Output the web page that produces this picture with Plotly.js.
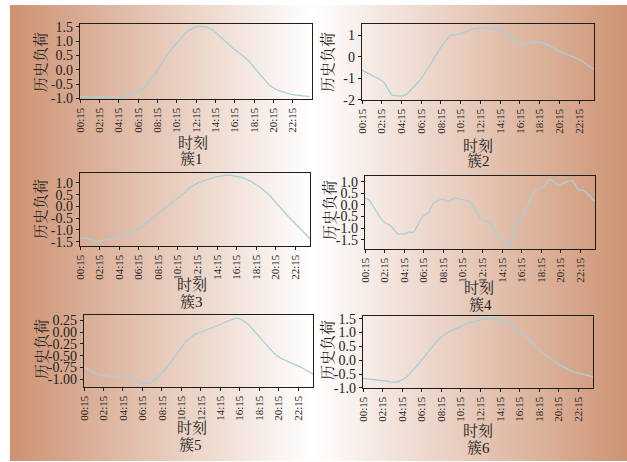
<!DOCTYPE html>
<html>
<head>
<meta charset="utf-8">
<script src="https://cdn.plot.ly/plotly-3.0.1.min.js"></script>
<style>
  html, body { margin: 0; padding: 0; background: #ffffff; }
  #wrap { position: relative; width: 627px; height: 462px; }
  #bg { position: absolute; left: 10px; top: 5px; width: 617px; height: 456px;
        background: linear-gradient(to right, rgb(205,146,114) 0%, rgb(255,255,255) 49%, rgb(206,148,116) 100%); }
  #chart { position: absolute; left: 0; top: 0; width: 627px; height: 462px; }
</style>
</head>
<body>
<div id="wrap"><div id="bg"></div><div id="chart"></div></div>
<script>
// time slot categories (00:15 ... 24:00, every 15 minutes)
const times = [];
for (let i = 0; i < 96; i++) {
  const m = 15 + 15 * i;
  const h = Math.floor(m / 60), mm = m % 60;
  times.push(String(h).padStart(2, '0') + ':' + String(mm).padStart(2, '0'));
}
const tickTimes = times.filter((t, i) => i % 8 === 0);

const clusterNames = ['簇1', '簇2', '簇3', '簇4', '簇5', '簇6'];
const yLabel = '历史负荷';
const xLabel = '时刻';

// y tick values per panel
const yTicks1 = [-1.0, -0.5, 0.0, 0.5, 1.0, 1.5];
const yTicks2 = [-2, -1, 0, 1];
const yTicks3 = [-1.5, -1.0, -0.5, 0.0, 0.5, 1.0];
const yTicks4 = [-1.5, -1.0, -0.5, 0.0, 0.5, 1.0];
const yTicks5 = [-1.00, -0.75, -0.50, -0.25, 0.00, 0.25];
const yTicks6 = [-1.0, -0.5, 0.0, 0.5, 1.0, 1.5];
const yTickDecimals = [1, 0, 1, 1, 2, 1];

const cluster1 = [-0.93,-0.94,-0.94,-0.94,-0.95,-0.95,-0.95,-0.95,-0.94,-0.94,-0.94,-0.94,-0.94,-0.94,-0.94,-0.94,-0.93,-0.93,-0.92,-0.91,
  -0.90,-0.88,-0.86,-0.83,-0.78,-0.72,-0.65,-0.57,-0.48,-0.38,-0.27,-0.16,-0.04,0.09,0.23,0.37,0.50,0.62,0.73,0.83,
  0.93,1.03,1.13,1.23,1.31,1.38,1.43,1.47,1.50,1.52,1.52,1.52,1.50,1.47,1.43,1.38,1.32,1.24,1.16,1.07,
  0.99,0.91,0.84,0.77,0.71,0.65,0.59,0.53,0.46,0.38,0.29,0.19,0.09,-0.01,-0.11,-0.22,-0.32,-0.42,-0.51,-0.58,
  -0.64,-0.68,-0.72,-0.75,-0.78,-0.81,-0.83,-0.85,-0.87,-0.88,-0.89,-0.90,-0.91,-0.92,-0.93,-0.94];

const cluster2 = [-0.62,-0.68,-0.74,-0.79,-0.84,-0.90,-0.96,-1.02,-1.10,-1.20,-1.40,-1.65,-1.78,-1.79,-1.80,-1.82,-1.83,-1.80,-1.74,-1.64,
  -1.53,-1.42,-1.30,-1.16,-1.01,-0.85,-0.66,-0.48,-0.30,-0.13,0.07,0.27,0.45,0.62,0.77,0.90,0.99,1.03,1.04,1.05,
  1.08,1.12,1.16,1.21,1.26,1.29,1.31,1.33,1.34,1.35,1.35,1.34,1.32,1.30,1.28,1.26,1.24,1.20,1.13,1.06,
  0.96,0.85,0.75,0.67,0.62,0.59,0.58,0.59,0.62,0.66,0.69,0.70,0.69,0.66,0.62,0.56,0.50,0.44,0.37,0.30,
  0.24,0.20,0.17,0.12,0.06,0.01,-0.04,-0.08,-0.11,-0.17,-0.26,-0.35,-0.44,-0.52,-0.56,-0.58];

const cluster3 = [-1.32,-1.33,-1.34,-1.36,-1.40,-1.44,-1.47,-1.48,-1.47,-1.46,-1.45,-1.43,-1.40,-1.37,-1.34,-1.31,-1.28,-1.24,-1.21,-1.17,
  -1.13,-1.09,-1.05,-1.01,-0.96,-0.89,-0.81,-0.73,-0.64,-0.55,-0.46,-0.38,-0.30,-0.21,-0.12,-0.03,0.06,0.13,0.20,0.27,
  0.34,0.43,0.53,0.63,0.72,0.80,0.87,0.94,0.99,1.03,1.07,1.11,1.15,1.18,1.21,1.24,1.27,1.29,1.31,1.32,
  1.33,1.33,1.32,1.30,1.28,1.26,1.23,1.20,1.16,1.11,1.06,1.00,0.93,0.86,0.78,0.70,0.62,0.52,0.41,0.30,
  0.19,0.07,-0.06,-0.18,-0.30,-0.41,-0.52,-0.62,-0.72,-0.84,-0.96,-1.08,-1.18,-1.28,-1.37,-1.44];

const cluster4 = [0.28,0.27,0.18,0.00,-0.20,-0.37,-0.51,-0.64,-0.76,-0.82,-0.85,-0.95,-1.10,-1.22,-1.27,-1.27,-1.25,-1.22,-1.16,-1.18,
  -1.17,-0.98,-0.76,-0.58,-0.46,-0.40,-0.32,-0.12,0.07,0.15,0.21,0.24,0.25,0.17,0.14,0.22,0.27,0.29,0.28,0.26,
  0.23,0.21,0.18,0.12,0.02,-0.18,-0.40,-0.58,-0.66,-0.68,-0.70,-0.74,-0.95,-1.16,-1.32,-1.46,-1.55,-1.61,-1.65,-1.68,
  -1.55,-1.00,-0.83,-0.69,-0.55,-0.40,-0.15,0.10,0.33,0.54,0.65,0.70,0.73,0.78,0.92,1.08,1.10,1.03,0.93,0.85,
  0.86,0.93,0.98,1.03,1.04,1.05,0.88,0.66,0.63,0.64,0.57,0.49,0.38,0.24,0.15,0.10];

const cluster5 = [-0.74,-0.77,-0.80,-0.83,-0.86,-0.88,-0.90,-0.91,-0.92,-0.93,-0.93,-0.94,-0.94,-0.94,-0.95,-0.95,-0.95,-0.95,-0.95,-0.96,
  -0.97,-1.00,-1.04,-1.07,-1.08,-1.09,-1.09,-1.08,-1.05,-1.01,-0.97,-0.92,-0.87,-0.81,-0.75,-0.68,-0.61,-0.53,-0.46,-0.38,
  -0.31,-0.25,-0.19,-0.14,-0.10,-0.07,-0.04,-0.02,0.00,0.02,0.04,0.06,0.07,0.09,0.11,0.14,0.16,0.18,0.21,0.23,
  0.25,0.27,0.29,0.29,0.28,0.25,0.22,0.18,0.13,0.07,0.01,-0.05,-0.11,-0.17,-0.23,-0.29,-0.35,-0.40,-0.45,-0.49,
  -0.53,-0.56,-0.58,-0.61,-0.63,-0.65,-0.67,-0.69,-0.72,-0.74,-0.77,-0.80,-0.83,-0.87,-0.90,-0.92];

const cluster6 = [-0.66,-0.67,-0.68,-0.69,-0.70,-0.71,-0.71,-0.72,-0.72,-0.74,-0.76,-0.78,-0.79,-0.80,-0.79,-0.76,-0.72,-0.66,-0.60,-0.51,
  -0.42,-0.32,-0.21,-0.10,0.00,0.11,0.23,0.34,0.45,0.56,0.66,0.76,0.84,0.91,0.97,1.02,1.07,1.11,1.16,1.20,
  1.23,1.26,1.30,1.33,1.36,1.39,1.41,1.44,1.46,1.48,1.50,1.51,1.51,1.51,1.50,1.48,1.46,1.42,1.38,1.34,
  1.30,1.25,1.19,1.13,1.07,0.99,0.91,0.83,0.75,0.66,0.57,0.47,0.38,0.30,0.23,0.16,0.09,0.03,-0.03,-0.09,
  -0.15,-0.20,-0.26,-0.31,-0.36,-0.39,-0.43,-0.45,-0.47,-0.50,-0.52,-0.54,-0.56,-0.58,-0.60,-0.62];

const series = [cluster1, cluster2, cluster3, cluster4, cluster5, cluster6];
const yTickSets = [yTicks1, yTicks2, yTicks3, yTicks4, yTicks5, yTicks6];

// layout geometry (pixels): [left, right, top, bottom]
const W = 627, H = 462;
const boxes = [[80,312,24,99],[362,594,24,100],[80,310,173,246],[365,595,176,249],[84,313,315,387],[363,593,316,388]];
const yRanges = [[-1.02,1.6],[-2.01,1.53],[-1.68,1.42],[-1.9,1.25],[-1.16,0.36],[-1.005,1.6]];
const xRanges = [[0,96],[0,94],[0,94],[0,94],[0,94],[0,94]];
const yTitlePos = [[40,62],[327,62],[41,209],[329,210],[41,349],[327,350]];
const xTitlePos = [[193,143],[478,146],[192,285],[479,288],[192,428],[478,431]];
const cTitlePos = [[191,159],[478,161],[191,302],[480,305],[190,445],[478,448]];

const FONT = 'Liberation Serif, "Noto Serif CJK SC", "Noto Sans CJK SC", serif';
const lineColor = '#a9cfd9';
const axisColor = '#1e1e1e';

const data = [];
const layout = {
  width: W, height: H,
  margin: {l:0, r:0, t:0, b:0},
  paper_bgcolor: 'rgba(0,0,0,0)',
  plot_bgcolor: 'rgba(0,0,0,0)',
  showlegend: false,
  font: {family: FONT, color: '#222', size: 12},
  annotations: []
};

series.forEach((ys, k) => {
  const n = k === 0 ? '' : String(k + 1);
  data.push({
    type: 'scatter', mode: 'lines', x: times, y: ys,
    xaxis: 'x' + n, yaxis: 'y' + n,
    line: {color: lineColor, width: 1.3},
    hoverinfo: 'skip'
  });
  const [l, r, t, b] = boxes[k];
  const tv = yTickSets[k];
  const tt = tv.map(v => (v < 0 ? '-' : '') + Math.abs(v).toFixed(yTickDecimals[k]));
  layout['xaxis' + n] = {
    type: 'category', domain: [l / W, r / W], anchor: 'y' + n,
    range: xRanges[k],
    tickmode: 'array', tickvals: tickTimes, ticktext: tickTimes,
    tickangle: -90, tickfont: {family: FONT, size: 11, color: '#222'},
    ticks: 'outside', ticklen: 3, tickwidth: 1, tickcolor: axisColor,
    showline: true, mirror: true, linecolor: axisColor, linewidth: 1.3,
    showgrid: false, zeroline: false
  };
  layout['yaxis' + n] = {
    domain: [1 - b / H, 1 - t / H], anchor: 'x' + n,
    range: yRanges[k],
    tickmode: 'array', tickvals: tv, ticktext: tt,
    tickfont: {family: FONT, size: 14, color: '#222'},
    ticks: 'outside', ticklen: 3, tickwidth: 1, tickcolor: axisColor,
    showline: true, mirror: true, linecolor: axisColor, linewidth: 1.3,
    showgrid: false, zeroline: false
  };
  layout.annotations.push({
    text: yLabel, textangle: -90, showarrow: false,
    xref: 'paper', yref: 'paper', x: yTitlePos[k][0] / W, y: 1 - yTitlePos[k][1] / H,
    xanchor: 'center', yanchor: 'middle', font: {family: FONT, size: 15, color: '#222'}
  });
  layout.annotations.push({
    text: xLabel, showarrow: false,
    xref: 'paper', yref: 'paper', x: xTitlePos[k][0] / W, y: 1 - xTitlePos[k][1] / H,
    xanchor: 'center', yanchor: 'middle', font: {family: FONT, size: 15, color: '#222'}
  });
  layout.annotations.push({
    text: clusterNames[k], showarrow: false,
    xref: 'paper', yref: 'paper', x: cTitlePos[k][0] / W, y: 1 - cTitlePos[k][1] / H,
    xanchor: 'center', yanchor: 'middle', font: {family: FONT, size: 15, color: '#222'}
  });
});

Plotly.newPlot('chart', data, layout, {staticPlot: true, displayModeBar: false});
</script>
</body>
</html>
